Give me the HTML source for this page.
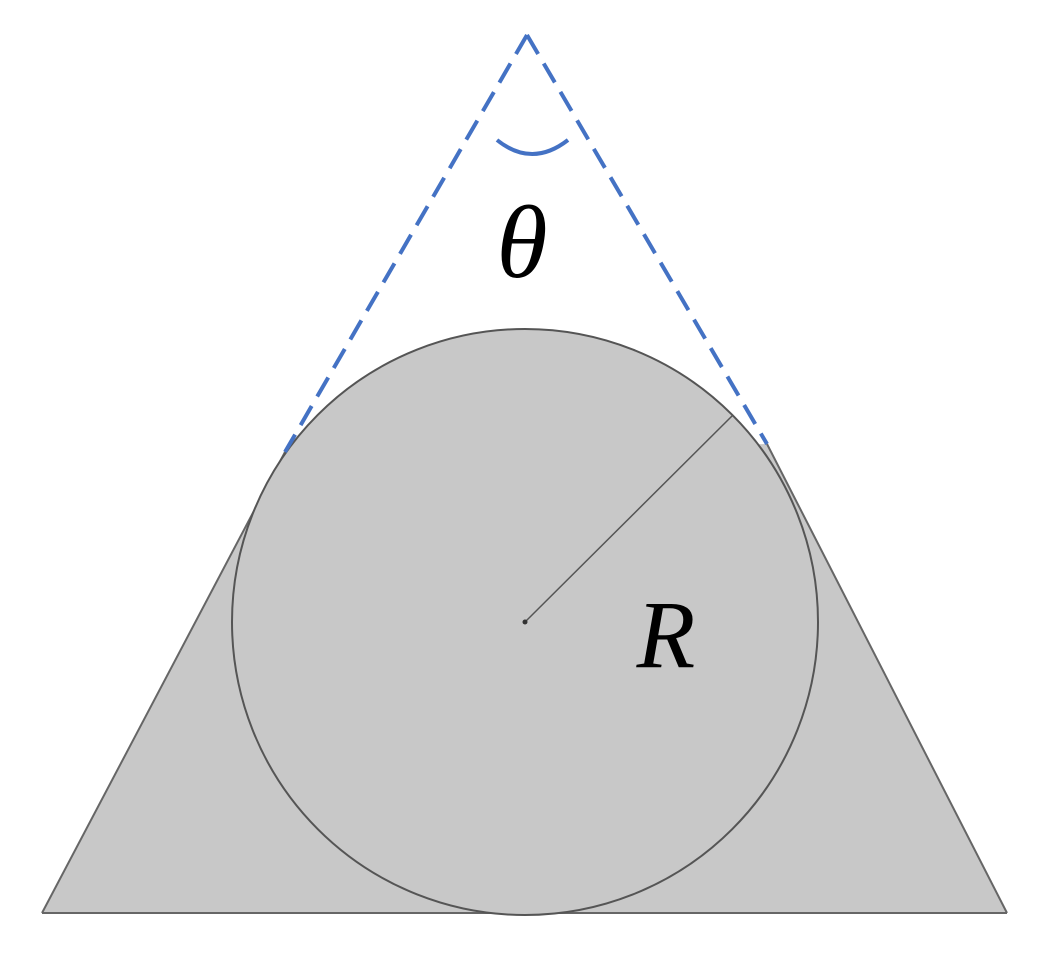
<!DOCTYPE html>
<html><head><meta charset="utf-8"><style>
html,body{margin:0;padding:0;background:#fff;}
svg{display:block}
</style></head><body>
<svg width="1040" height="960" viewBox="0 0 1040 960" xmlns="http://www.w3.org/2000/svg">
  <polygon points="42,913 285,452 767,444 1007,913" fill="#c8c8c8" stroke="none"/>
  <line x1="42" y1="913" x2="285" y2="452" stroke="#666" stroke-width="2"/>
  <line x1="1007" y1="913" x2="767" y2="444" stroke="#666" stroke-width="2"/>
  <line x1="42" y1="913" x2="1007" y2="913" stroke="#666" stroke-width="2"/>
  <circle cx="525" cy="622" r="293" fill="#c8c8c8" stroke="#555" stroke-width="2"/>
  <line x1="525" y1="622" x2="733" y2="415" stroke="#555" stroke-width="1.5"/>
  <circle cx="525" cy="622" r="2.5" fill="#333"/>
  <line x1="527" y1="35" x2="285" y2="452" stroke="#4472c4" stroke-width="4" stroke-dasharray="22,11"/>
  <line x1="527" y1="35" x2="767" y2="444" stroke="#4472c4" stroke-width="4" stroke-dasharray="22,11"/>
  <path d="M497,140 Q532,168 568,140" fill="none" stroke="#4472c4" stroke-width="4"/>
  <text x="522" y="277" font-family="Liberation Serif, serif" font-style="italic" font-size="104" text-anchor="middle" fill="#000">θ</text>
  <text x="666" y="667" font-family="Liberation Serif, serif" font-style="italic" font-size="96" text-anchor="middle" fill="#000">R</text>
</svg>
</body></html>
